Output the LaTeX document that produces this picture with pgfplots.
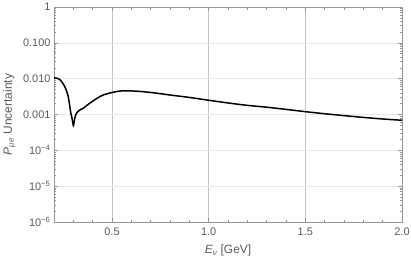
\documentclass[border=0pt]{standalone}
\usepackage{fontspec}
\setmainfont{Liberation Sans}
\usepackage{pgfplots}
\pgfplotsset{compat=1.18}
\definecolor{framegray}{RGB}{150,150,150}
\definecolor{vgrid}{RGB}{195,195,195}
\definecolor{hgrid}{RGB}{232,232,232}
\definecolor{labgray}{RGB}{90,90,90}
\newcommand{\tp}[1]{10\textsuperscript{−#1}}
\begin{document}
\begin{tikzpicture}
\useasboundingbox (-54bp,-41bp) rectangle (357bp,222bp);
\begin{axis}[
  scale only axis,
  width=348bp, height=215bp,
  at={(0,0)}, anchor=south west,
  xmin=0.2, xmax=2.0,
  ymode=log, ymin=1e-6, ymax=1,
  xtick={0.5,1.0,1.5,2.0},
  xticklabels={0.5,1.0,1.5,2.0},
  minor xtick={0.3,0.4,0.6,0.7,0.8,0.9,1.1,1.2,1.3,1.4,1.6,1.7,1.8,1.9},
  ytick={1e-6,1e-5,1e-4,1e-3,1e-2,1e-1,1},
  yticklabels={\tp{6},\tp{5},\tp{4},0.001,0.010,0.100,1},
  tick align=inside,
  major tick length=4bp, minor tick length=2.5bp,
  axis line style={framegray, line width=0.6pt},
  every tick/.style={framegray, line width=0.5pt},
  tick label style={font=\fontsize{11}{13}\selectfont, text=labgray},
  yticklabel style={xshift=0bp},
  xticklabel style={yshift=-2bp},
  xmajorgrids=true, ymajorgrids=true,
  x grid style={vgrid, line width=0.7pt},
  y grid style={hgrid, line width=0.6pt},
  xlabel={\textit{E}\textsubscript{\textit{ν}} [GeV]},
  ylabel={\textit{P}\textsubscript{\textit{μe}} Uncertainty},
  label style={font=\fontsize{12}{14}\selectfont, text=labgray},
  xlabel style={yshift=-3bp},
  ylabel style={yshift=1bp},
  /pgf/number format/assume math mode=true,
]
\addplot[black, line width=1.5pt, smooth, tension=0.4] coordinates {
(0.200,0.0105)
(0.215,0.0103)
(0.231,0.0094)
(0.245,0.0075)
(0.257,0.0058)
(0.267,0.0042)
(0.274,0.0031)
(0.281,0.0018)
(0.287,0.0011)
(0.293,0.0008)
(0.300,0.00049)
(0.305,0.00066)
(0.309,0.00085)
(0.317,0.0011)
(0.326,0.00125)
(0.340,0.0014)
(0.352,0.0015)
(0.370,0.0018)
(0.387,0.0021)
(0.421,0.0028)
(0.454,0.0035)
(0.499,0.0041)
(0.540,0.0045)
(0.577,0.0046)
(0.646,0.0044)
(0.720,0.0040)
(0.800,0.0035)
(0.900,0.0030)
(1.000,0.0025)
(1.100,0.0021)
(1.200,0.0018)
(1.300,0.0016)
(1.420,0.00135)
(1.500,0.0012)
(1.600,0.00105)
(1.700,0.00093)
(1.800,0.00083)
(1.900,0.00075)
(2.000,0.00069)
};
\end{axis}
\end{tikzpicture}
\end{document}
